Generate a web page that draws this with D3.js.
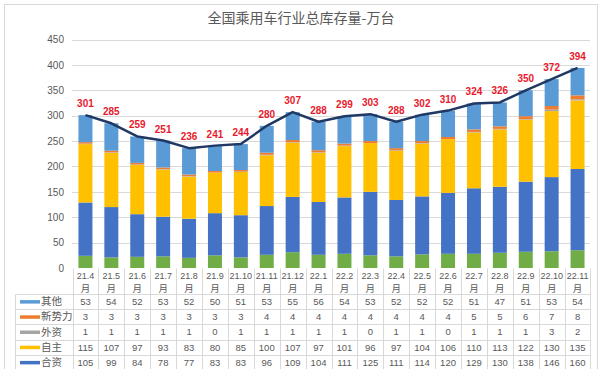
<!DOCTYPE html>
<html><head><meta charset="utf-8">
<script src="https://cdn.jsdelivr.net/npm/d3@7/dist/d3.min.js"></script>
<style>
html,body{margin:0;padding:0;background:#fff;}
svg{display:block;font-family:"Liberation Sans","Noto Sans CJK SC",sans-serif;}
</style></head>
<body>
<svg id="chart" width="602" height="369"></svg>
<script>
const title = "全国乘用车行业总库存量-万台";
const categories = ["21.4","21.5","21.6","21.7","21.8","21.9","21.10","21.11","21.12","22.1","22.2","22.3","22.4","22.5","22.6","22.7","22.8","22.9","22.10","22.11"];
const monthSuffix = "月";
// stack order from bottom
const seriesNames = ["豪华","合资","自主","外资","新势力","其他"];
const haohua   = [24,21,22,23,20,25,21,26,31,26,28,25,23,27,28,28,30,32,33,35];
const hezi     = [105,99,84,78,77,83,83,96,109,104,111,125,111,114,120,129,130,138,146,160];
const zizhu    = [115,107,97,93,83,80,85,100,107,97,101,96,97,104,106,110,113,122,130,135];
const waizi    = [1,1,1,1,1,0,1,1,1,1,1,0,1,1,0,1,1,1,3,2];
const xinshili = [3,3,3,3,3,3,3,4,4,4,4,4,4,4,4,5,5,6,7,8];
const qita     = [53,54,52,53,52,50,51,53,55,56,54,53,52,52,52,51,47,51,53,54];
const totals   = [301,285,259,251,236,241,244,280,307,288,299,303,288,302,310,324,326,350,372,394];
const yTicks   = [0,50,100,150,200,250,300,350,400,450];
const colors = ["#70ad47","#4472c4","#ffc000","#a5a5a5","#ed7d31","#5b9bd5"];
const seriesValues = [haohua,hezi,zizhu,waizi,xinshili,qita];

const svg = d3.select("#chart");
const W = 602, H = 369;
svg.append("rect").attr("x",4.5).attr("y",4.5).attr("width",W-9).attr("height",H+10)
  .attr("fill","#fff").attr("stroke","#d9d9d9");

svg.append("text").attr("x",301).attr("y",23).attr("text-anchor","middle")
  .attr("font-size",14).attr("fill","#595959")
  .attr("font-family","'Noto Sans CJK SC',sans-serif").text(title);

const x = d3.scaleBand().domain(categories).range([72.5,590.5]).paddingInner(0.46).paddingOuter(0.23);
const xb = d3.scaleBand().domain(categories).range([72.5,590.5]);
const y = d3.scaleLinear().domain([0,450]).range([268,39.5]);

svg.append("g").selectAll("line").data(yTicks.slice(1)).join("line")
  .attr("x1",72).attr("x2",590).attr("y1",d=>Math.round(y(d))+0.5).attr("y2",d=>Math.round(y(d))+0.5)
  .attr("stroke","#d9d9d9").attr("stroke-width",1);

const yAxis = d3.axisLeft(y).tickValues(yTicks).tickSize(0).tickPadding(6);
const ga = svg.append("g").attr("transform","translate(68,0)").call(yAxis);
ga.select(".domain").remove();
ga.selectAll("text").attr("font-size",10).attr("fill","#595959").attr("font-family","'Liberation Sans',sans-serif").attr("dx",2);

const rows = categories.map((c,i)=>{const o={cat:c}; seriesNames.forEach((s,k)=>o[s]=seriesValues[k][i]); return o;});
const stack = d3.stack().keys(seriesNames)(rows);
svg.append("g").selectAll("g").data(stack).join("g").attr("fill",(d,i)=>colors[i])
  .selectAll("rect").data(d=>d).join("rect")
  .attr("x",d=>x(d.data.cat)).attr("width",x.bandwidth())
  .attr("y",d=>y(d[1])).attr("height",d=>Math.max(0,y(d[0])-y(d[1])));

const line = d3.line().x((d,i)=>xb(categories[i])+xb.bandwidth()/2).y(d=>y(d));
svg.append("path").datum(totals).attr("d",line).attr("fill","none")
  .attr("stroke","#203864").attr("stroke-width",2.5).attr("stroke-linejoin","round");

svg.append("g").selectAll("text").data(totals).join("text")
  .attr("x",(d,i)=>xb(categories[i])+xb.bandwidth()/2).attr("y",d=>y(d)-8)
  .attr("text-anchor","middle").attr("font-size",10).attr("font-weight","bold")
  .attr("fill","#e8192c").text(d=>d);

const tbl = svg.append("g").attr("font-family","'Noto Sans CJK SC','Liberation Sans',sans-serif");
const tblTop = 268.5, headerBottom = 294, rowH = 15.2;
const gridC = "#d9d9d9";
const tableRowsOrder = [5,4,3,2,1,0];
const nRows = tableRowsOrder.length;
const tblBottom = headerBottom + nRows*rowH;
const bounds = categories.map(c=>xb(c)).concat([xb(categories[categories.length-1])+xb.bandwidth()]);
tbl.selectAll("line.v").data(bounds).join("line").attr("class","v")
  .attr("x1",d=>Math.round(d)+0.5).attr("x2",d=>Math.round(d)+0.5).attr("y1",tblTop).attr("y2",tblBottom)
  .attr("stroke",gridC);
tbl.append("line").attr("x1",15.5).attr("x2",15.5).attr("y1",headerBottom).attr("y2",tblBottom).attr("stroke",gridC);
const hLines = d3.range(nRows+1).map(k=>headerBottom+k*rowH);
tbl.selectAll("line.h").data(hLines).join("line").attr("class","h")
  .attr("x1",15).attr("x2",bounds[bounds.length-1]+0.5)
  .attr("y1",d=>Math.round(d)+0.5).attr("y2",d=>Math.round(d)+0.5).attr("stroke",gridC);

const hdr = tbl.selectAll("g.hd").data(categories).join("g").attr("class","hd")
  .attr("transform",c=>`translate(${xb(c)+xb.bandwidth()/2},0)`);
hdr.append("text").attr("y",278.5).attr("text-anchor","middle").attr("font-size",9)
  .attr("fill","#595959").attr("font-family","'Liberation Sans',sans-serif").text(c=>c);
hdr.append("text").attr("y",291.5).attr("text-anchor","middle").attr("font-size",9.5)
  .attr("fill","#595959").text(monthSuffix);

tableRowsOrder.forEach((si,r)=>{
  const cy = headerBottom + r*rowH + rowH/2;
  tbl.append("rect").attr("x",20).attr("y",cy-1.5).attr("width",20).attr("height",3.5).attr("fill",colors[si]);
  tbl.append("text").attr("x",41).attr("y",cy+3.5).attr("font-size",10.5).attr("fill","#595959").text(seriesNames[si]);
  tbl.append("g").selectAll("text").data(seriesValues[si]).join("text")
    .attr("x",(d,i)=>xb(categories[i])+xb.bandwidth()/2).attr("y",cy+3.3)
    .attr("text-anchor","middle").attr("font-size",9.5).attr("fill","#595959")
    .attr("font-family","'Liberation Sans',sans-serif").text(d=>d);
});
</script>
</body></html>
